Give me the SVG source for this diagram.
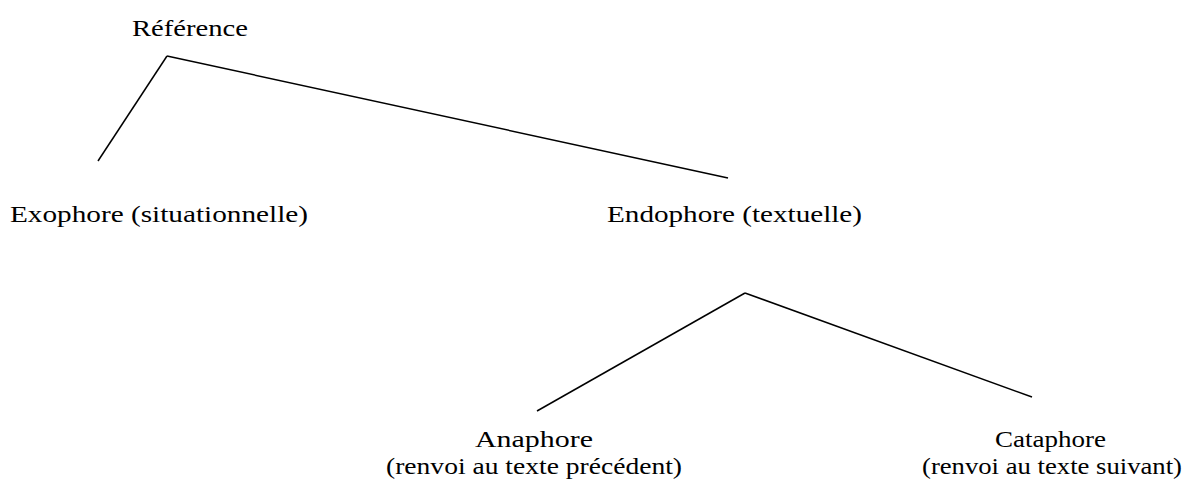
<svg xmlns="http://www.w3.org/2000/svg" width="1186" height="487" viewBox="0 0 1186 487">
<style>
text{font-family:"Palatino Linotype","Book Antiqua",Palatino,"Liberation Serif","DejaVu Serif",serif;font-size:24px;fill:#000}
.c{stroke:#000;stroke-width:1.5;fill:none}
</style>
<rect width="1186" height="487" fill="#fff"/>
<g id="connectors">
<line class="c" x1="167" y1="56" x2="98" y2="161"/>
<line class="c" x1="167" y1="56" x2="728" y2="178"/>
<line class="c" x1="745" y1="293" x2="537" y2="411"/>
<line class="c" x1="745" y1="293" x2="1032" y2="397"/>
</g>
<g id="n-reference"><text x="132" y="36" textLength="116" lengthAdjust="spacingAndGlyphs">Référence</text></g>
<g id="n-exophore"><text x="10" y="222" textLength="298" lengthAdjust="spacingAndGlyphs">Exophore (situationnelle)</text></g>
<g id="n-endophore"><text x="607" y="222" textLength="255" lengthAdjust="spacingAndGlyphs">Endophore (textuelle)</text></g>
<g id="n-anaphore">
<text x="475" y="447" textLength="118" lengthAdjust="spacingAndGlyphs">Anaphore</text>
<text x="386" y="474" textLength="296" lengthAdjust="spacingAndGlyphs">(renvoi au texte précédent)</text>
</g>
<g id="n-cataphore">
<text x="995" y="447" textLength="111" lengthAdjust="spacingAndGlyphs">Cataphore</text>
<text x="922" y="474" textLength="260" lengthAdjust="spacingAndGlyphs">(renvoi au texte suivant)</text>
</g>
</svg>
